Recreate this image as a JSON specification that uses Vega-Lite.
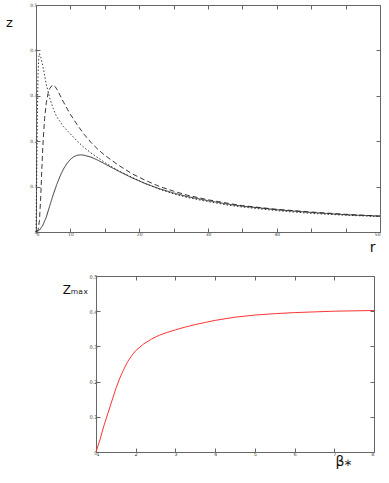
{
  "$schema": "https://vega.github.io/schema/vega-lite/v6.json",
  "padding": {"left": 5, "top": 2, "right": 5, "bottom": 5},
  "config": {
    "view": {"stroke": null},
    "axis": {"domainColor": "#666", "tickColor": "#666", "labelColor": "#444", "labelFontSize": 4.5, "labelFont": "DejaVu Sans", "grid": false, "tickSize": -4, "labelPadding": 3, "titleFont": "DejaVu Sans", "titleFontWeight": "normal", "titleColor": "#111"}
  },
  "datasets": {
    "curves": [
      {"s":"solid","r":0,"z":0},{"s":"solid","r":0.5,"z":0.004},{"s":"solid","r":1,"z":0.015},{"s":"solid","r":1.5,"z":0.033},{"s":"solid","r":2,"z":0.058},{"s":"solid","r":2.5,"z":0.082},{"s":"solid","r":3,"z":0.104},{"s":"solid","r":3.5,"z":0.123},{"s":"solid","r":4,"z":0.139},{"s":"solid","r":4.5,"z":0.151},{"s":"solid","r":5,"z":0.16},{"s":"solid","r":5.5,"z":0.166},{"s":"solid","r":6,"z":0.169},{"s":"solid","r":6.5,"z":0.17},{"s":"solid","r":7,"z":0.169},{"s":"solid","r":8,"z":0.165},{"s":"solid","r":9,"z":0.158},{"s":"solid","r":10,"z":0.15},{"s":"solid","r":11,"z":0.142},{"s":"solid","r":12,"z":0.134},{"s":"solid","r":14,"z":0.119},{"s":"solid","r":16,"z":0.106},{"s":"solid","r":18,"z":0.095},{"s":"solid","r":20,"z":0.086},{"s":"solid","r":22,"z":0.078},{"s":"solid","r":25,"z":0.069},{"s":"solid","r":28,"z":0.061},{"s":"solid","r":30,"z":0.057},{"s":"solid","r":35,"z":0.049},{"s":"solid","r":40,"z":0.043},{"s":"solid","r":45,"z":0.038},{"s":"solid","r":50,"z":0.035},
      {"s":"dashed","r":0,"z":0},{"s":"dashed","r":0.3,"z":0.005},{"s":"dashed","r":0.5,"z":0.025},{"s":"dashed","r":0.7,"z":0.08},{"s":"dashed","r":0.85,"z":0.14},{"s":"dashed","r":1.0,"z":0.19},{"s":"dashed","r":1.25,"z":0.25},{"s":"dashed","r":1.5,"z":0.285},{"s":"dashed","r":1.75,"z":0.305},{"s":"dashed","r":2.0,"z":0.316},{"s":"dashed","r":2.4,"z":0.324},{"s":"dashed","r":2.8,"z":0.32},{"s":"dashed","r":3.2,"z":0.31},{"s":"dashed","r":4,"z":0.286},{"s":"dashed","r":5,"z":0.259},{"s":"dashed","r":6,"z":0.236},{"s":"dashed","r":7,"z":0.215},{"s":"dashed","r":8,"z":0.197},{"s":"dashed","r":9,"z":0.182},{"s":"dashed","r":10,"z":0.169},{"s":"dashed","r":12,"z":0.147},{"s":"dashed","r":14,"z":0.128},{"s":"dashed","r":16,"z":0.113},{"s":"dashed","r":18,"z":0.1},{"s":"dashed","r":20,"z":0.09},{"s":"dashed","r":22,"z":0.081},{"s":"dashed","r":25,"z":0.071},{"s":"dashed","r":28,"z":0.063},{"s":"dashed","r":30,"z":0.058},{"s":"dashed","r":35,"z":0.05},{"s":"dashed","r":40,"z":0.044},{"s":"dashed","r":45,"z":0.039},{"s":"dashed","r":50,"z":0.035},
      {"s":"dotted","r":0,"z":0},{"s":"dotted","r":0.1,"z":0.12},{"s":"dotted","r":0.2,"z":0.26},{"s":"dotted","r":0.3,"z":0.35},{"s":"dotted","r":0.4,"z":0.385},{"s":"dotted","r":0.5,"z":0.393},{"s":"dotted","r":0.7,"z":0.385},{"s":"dotted","r":1.0,"z":0.365},{"s":"dotted","r":1.5,"z":0.325},{"s":"dotted","r":2.0,"z":0.295},{"s":"dotted","r":2.5,"z":0.272},{"s":"dotted","r":3,"z":0.254},{"s":"dotted","r":4,"z":0.232},{"s":"dotted","r":5,"z":0.216},{"s":"dotted","r":6,"z":0.2},{"s":"dotted","r":7,"z":0.186},{"s":"dotted","r":8,"z":0.174},{"s":"dotted","r":10,"z":0.153},{"s":"dotted","r":12,"z":0.135},{"s":"dotted","r":14,"z":0.12},{"s":"dotted","r":16,"z":0.106},{"s":"dotted","r":18,"z":0.094},{"s":"dotted","r":20,"z":0.084},{"s":"dotted","r":22,"z":0.076},{"s":"dotted","r":25,"z":0.067},{"s":"dotted","r":28,"z":0.059},{"s":"dotted","r":30,"z":0.055},{"s":"dotted","r":35,"z":0.047},{"s":"dotted","r":40,"z":0.041},{"s":"dotted","r":45,"z":0.037},{"s":"dotted","r":50,"z":0.034}
    ],
    "zmax": [
      {"b":1,"z":0},{"b":1.1,"z":0.035},{"b":1.2,"z":0.075},{"b":1.3,"z":0.11},{"b":1.4,"z":0.145},{"b":1.5,"z":0.18},{"b":1.6,"z":0.21},{"b":1.7,"z":0.235},{"b":1.8,"z":0.257},{"b":1.9,"z":0.274},{"b":2.0,"z":0.288},{"b":2.2,"z":0.307},{"b":2.4,"z":0.321},{"b":2.6,"z":0.332},{"b":2.8,"z":0.34},{"b":3.0,"z":0.347},{"b":3.25,"z":0.355},{"b":3.5,"z":0.362},{"b":3.75,"z":0.368},{"b":4.0,"z":0.374},{"b":4.5,"z":0.383},{"b":5,"z":0.389},{"b":5.5,"z":0.393},{"b":6,"z":0.396},{"b":6.5,"z":0.398},{"b":7,"z":0.4},{"b":7.5,"z":0.401},{"b":8,"z":0.402}
    ]
  },
  "spacing": 20,
  "vconcat": [
    {
      "width": 344,
      "height": 227,
      "data": {"name": "curves"},
      "layer": [
        {
          "mark": {"type": "line", "strokeWidth": 0.9, "color": "#222"},
          "encoding": {
            "x": {"field": "r", "type": "quantitative", "scale": {"domain": [0, 50], "nice": false, "zero": false},
              "axis": {"orient": "bottom", "values": [0,5,10,15,20,25,30,35,40,45,50],
                "labelExpr": "datum.value==0?'0':datum.value==5?'10':datum.value==15?'20':datum.value==25?'30':datum.value==35?'40':datum.value==50?'50':''",
                "title": "r", "titleX": 336, "titleY": 15, "titleFontSize": 14, "titleAlign": "center", "titleBaseline": "middle"}},
            "y": {"field": "z", "type": "quantitative", "scale": {"domain": [0, 0.5], "nice": false},
              "axis": {"orient": "left", "values": [0,0.1,0.2,0.3,0.4,0.5], "format": "~g",
                "title": "z", "titleAngle": 0, "titleX": -27, "titleY": 17, "titleFontSize": 13, "titleAlign": "center", "titleBaseline": "middle"}},
            "strokeDash": {"field": "s", "type": "nominal", "scale": {"domain": ["solid","dashed","dotted"], "range": [[1,0],[5,3],[1.5,2]]}, "legend": null}
          }
        },
        {
          "mark": {"type": "line", "opacity": 0},
          "encoding": {
            "x": {"field": "r", "type": "quantitative", "axis": {"orient": "top", "values": [0,5,10,15,20,25,30,35,40,45,50], "labels": false, "title": null}},
            "y": {"field": "z", "type": "quantitative", "axis": {"orient": "right", "values": [0,0.1,0.2,0.3,0.4,0.5], "labels": false, "title": null}},
            "detail": {"field": "s"}
          }
        }
      ],
      "resolve": {"axis": {"x": "independent", "y": "independent"}}
    },
    {
      "spacing": 25,
      "hconcat": [
        {"width": 1, "height": 176, "data": {"values": []}, "mark": "point"},
        {
          "width": 278,
          "height": 176,
          "data": {"name": "zmax"},
          "layer": [
            {
              "mark": {"type": "line", "strokeWidth": 1, "color": "#ff3333"},
              "encoding": {
                "x": {"field": "b", "type": "quantitative", "scale": {"domain": [1, 8], "nice": false, "zero": false},
                  "axis": {"orient": "bottom", "values": [1,2,3,4,5,6,7,8], "labelFontSize": 5,
                    "title": "β⁎", "titleX": 247, "titleY": 9, "titleFontSize": 14, "titleAlign": "center", "titleBaseline": "middle"}},
                "y": {"field": "z", "type": "quantitative", "scale": {"domain": [0, 0.5], "nice": false},
                  "axis": {"orient": "left", "values": [0,0.1,0.2,0.3,0.4,0.5], "format": "~g", "labelFontSize": 5,
                    "title": "Zₘₐₓ", "titleAngle": 0, "titleX": -21, "titleY": 13, "titleFontSize": 12, "titleAlign": "center", "titleBaseline": "middle"}}
              }
            },
            {
              "mark": {"type": "line", "opacity": 0},
              "encoding": {
                "x": {"field": "b", "type": "quantitative", "axis": {"orient": "top", "values": [1,2,3,4,5,6,7,8], "labels": false, "title": null}},
                "y": {"field": "z", "type": "quantitative", "axis": {"orient": "right", "values": [0,0.1,0.2,0.3,0.4,0.5], "labels": false, "title": null}}
              }
            }
          ],
          "resolve": {"axis": {"x": "independent", "y": "independent"}}
        }
      ]
    }
  ]
}
